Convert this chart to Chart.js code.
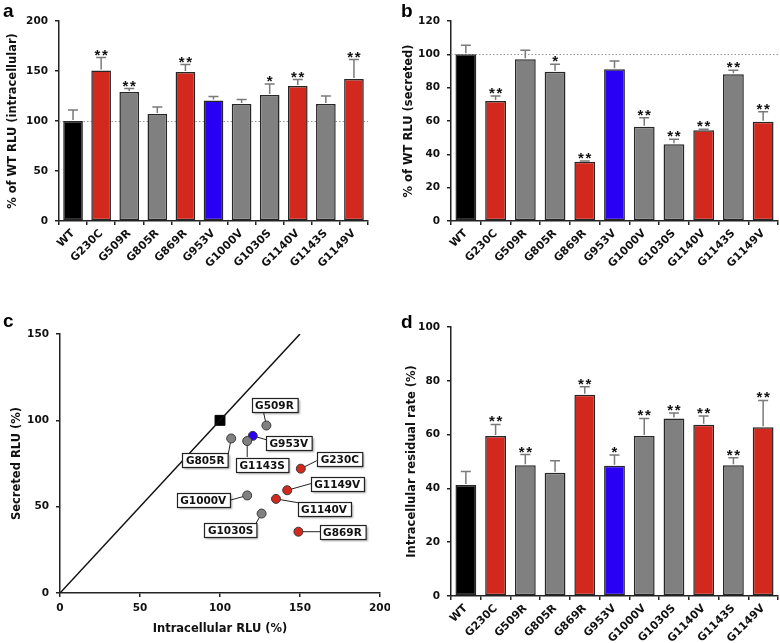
<!DOCTYPE html>
<html><head><meta charset="utf-8">
<script src="https://cdn.jsdelivr.net/npm/chart.js@4/dist/chart.umd.min.js"></script>
<style>
html,body{margin:0;padding:0;background:#fff}
body{width:780px;height:643px;position:relative;overflow:hidden;font-family:"Liberation Sans",Arial,sans-serif}
canvas{position:absolute;display:block}
.letter{position:absolute;font-weight:bold;font-size:19px;line-height:19px;color:#000}
</style></head><body>
<canvas id="ca" width="390" height="300" style="left:0;top:0"></canvas>
<canvas id="cb" width="390" height="300" style="left:390px;top:0"></canvas>
<canvas id="cc" width="390" height="333" style="left:0;top:310px"></canvas>
<canvas id="cd" width="390" height="333" style="left:390px;top:310px"></canvas>
<div class="letter" style="left:3px;top:1px">a</div>
<div class="letter" style="left:401px;top:1px">b</div>
<div class="letter" style="left:3px;top:311px">c</div>
<div class="letter" style="left:401px;top:312px">d</div>
<script>
// ---- data ----
const categories = ['WT','G230C','G509R','G805R','G869R','G953V','G1000V','G1030S','G1140V','G1143S','G1149V'];
const intracellular    = [100, 150.5, 129, 107, 149, 120.5, 117, 126, 135, 117, 142];
const intracellularSEM = [11, 13, 3.5, 7, 7.5, 4, 4.5, 11, 6.5, 8, 19.5];
const intracellularSig = ['', '**', '**', '', '**', '', '', '*', '**', '', '**'];
const secreted    = [100, 72, 97, 89.5, 35.5, 91, 56.5, 46, 54.5, 88, 59.5];
const secretedSEM = [5.5, 3, 5.5, 4.5, 0.5, 5, 5.5, 3, 0.5, 2.5, 6];
const secretedSig = ['', '**', '', '*', '**', '', '**', '**', '**', '**', '**'];
const residual    = [41.3, 59.5, 48.6, 45.8, 74.8, 48.4, 59.5, 66, 63.7, 48.6, 62.7];
const residualSEM = [5, 4.3, 4, 4.5, 3, 4, 6.5, 2, 3.2, 2.8, 10];
const residualSig = ['', '**', '**', '', '**', '*', '**', '**', '**', '**', '**'];
const identityLine = [0, 150];   // y = x reference line, x range

// ---- styles ----
const RED = '#d2281e', GRAY = '#808080', BLUE = '#2a00f5', BLACK = '#000000';
const barColors = [BLACK, RED, GRAY, GRAY, RED, BLUE, GRAY, GRAY, RED, GRAY, RED];
const FONT = '"DejaVu Sans", Verdana, sans-serif';
const INK = '#111';

const barExtras = {
  id: 'barExtras',
  beforeDatasetsDraw(chart, args, opts) {
    if (opts.ref == null) return;
    const {ctx, chartArea: a, scales: {y}} = chart;
    const py = Math.round(y.getPixelForValue(opts.ref)) + 0.5;
    ctx.save();
    ctx.strokeStyle = '#9a9a9a'; ctx.lineWidth = 1; ctx.setLineDash([1.5, 2]);
    ctx.beginPath(); ctx.moveTo(a.left, py); ctx.lineTo(a.right, py); ctx.stroke();
    ctx.restore();
  },
  afterDatasetsDraw(chart, args, opts) {
    const {ctx, scales: {y}} = chart;
    const meta = chart.getDatasetMeta(0);
    const vals = chart.data.datasets[0].data;
    ctx.save();
    meta.data.forEach((bar, i) => {
      const v = vals[i], e = opts.err[i];
      const x = bar.x, y0 = y.getPixelForValue(v), y1 = y.getPixelForValue(v + e);
      ctx.strokeStyle = '#7a7a7a'; ctx.lineWidth = 1.5;
      ctx.beginPath();
      ctx.moveTo(x, y0 - 1); ctx.lineTo(x, y1);
      ctx.moveTo(x - 5, y1); ctx.lineTo(x + 5, y1);
      ctx.stroke();
      const s = opts.sig[i];
      if (s) {
        ctx.fillStyle = INK;
        ctx.font = 'bold 15px "Liberation Sans", Arial, sans-serif';
        ctx.textAlign = 'center'; ctx.textBaseline = 'alphabetic';
        const step = 7.5;
        for (let k = 0; k < s.length; k++) {
          ctx.fillText('*', x + (k - (s.length - 1) / 2) * step, y1 + 2);
        }
      }
    });
    ctx.restore();
  }
};

function barChart(id, values, errs, sig, o) {
  return new Chart(document.getElementById(id), {
    type: 'bar',
    data: {labels: categories, datasets: [{
      data: values, backgroundColor: barColors, borderColor: '#262626', borderWidth: 1.5,
      borderSkipped: false, categoryPercentage: 1, barPercentage: 0.7
    }]},
    options: {
      responsive: false, animation: false, devicePixelRatio: 1,
      layout: {padding: {left: 0, right: o.padR, top: o.top, bottom: 0}},
      plugins: {legend: {display: false}, tooltip: {enabled: false},
        barExtras: {err: errs, sig: sig, ref: o.ref}},
      scales: {
        x: {
          grid: {drawOnChartArea: false, offset: true, drawTicks: true, tickLength: 4, color: '#222', lineWidth: 1.5},
          border: {display: true, color: '#222', width: 1.5},
          ticks: {minRotation: 45, maxRotation: 45, autoSkip: false, padding: 2, color: INK,
            font: {family: FONT, size: 11, weight: 'bold'}},
          afterFit(s) { s.height = o.xh; s.paddingLeft = 0; s.paddingRight = 0; }
        },
        y: {
          min: 0, max: o.max,
          ticks: {stepSize: o.step, padding: 7, color: INK, font: {family: FONT, size: 10.5, weight: 'bold'}},
          grid: {drawOnChartArea: false, tickLength: 4, color: '#222', lineWidth: 1.5},
          border: {color: '#222', width: 1.5},
          title: {display: true, text: o.title, color: INK,
            font: {family: FONT, size: 11.5, weight: 'bold'}, padding: {top: o.tp, bottom: 0}},
          afterFit(s) { s.width = o.yw; s.paddingTop = 0; s.paddingBottom = 0; }
        }
      }
    },
    plugins: [barExtras]
  });
}

barChart('ca', intracellular, intracellularSEM, intracellularSig,
  {max: 200, step: 50, title: '% of WT RLU (intracellular)', ref: 100, top: 21, padR: 22, xh: 79, yw: 59, tp: 6});
barChart('cb', secreted, secretedSEM, secretedSig,
  {max: 120, step: 20, title: '% of WT RLU (secreted)', ref: 100, top: 21, padR: 2, xh: 79, yw: 61, tp: 12});
barChart('cd', residual, residualSEM, residualSig,
  {max: 100, step: 20, title: 'Intracellular residual rate (%)', ref: null, top: 17, padR: 2, xh: 47, yw: 61, tp: 15});

// ---- scatter (panel c) ----
const labelLayout = {
  G230C:  {box: [39, -10],  end: [16, -8]},
  G509R:  {box: [8, -21],   end: [-3, -14]},
  G805R:  {box: [-26, 22],  end: [-3, 16]},
  G869R:  {box: [44, 0],    end: [22, 0]},
  G953V:  {box: [36, 7],    end: [14, 4]},
  G1000V: {box: [-44, 5],   end: [-18, 5]},
  G1030S: {box: [-31, 16],  end: [-8, 14]},
  G1140V: {box: [48, 10],   end: [23, 4]},
  G1143S: {box: [15, 24],   end: [0, 16]},
  G1149V: {box: [50, -6],   end: [25, -7]}
};
const pointLabels = {
  id: 'pointLabels',
  beforeDatasetsDraw(chart, args, opts) {
    const {ctx} = chart;
    const meta = chart.getDatasetMeta(1);
    ctx.save(); ctx.strokeStyle = '#222'; ctx.lineWidth = 1;
    meta.data.forEach((pt, i) => {
      const L = opts.layout[opts.names[i]]; if (!L) return;
      ctx.beginPath(); ctx.moveTo(pt.x, pt.y); ctx.lineTo(pt.x + L.end[0], pt.y + L.end[1]); ctx.stroke();
    });
    ctx.restore();
  },
  afterDatasetsDraw(chart, args, opts) {
    const {ctx} = chart;
    const meta = chart.getDatasetMeta(1);
    ctx.save();
    ctx.font = 'bold 10.5px ' + FONT;
    meta.data.forEach((pt, i) => {
      const name = opts.names[i];
      const L = opts.layout[name]; if (!L) return;
      const cx = pt.x + L.box[0], cy = pt.y + L.box[1];
      const w = ctx.measureText(name).width + 7, h = 14;
      const x0 = Math.round(cx - w / 2) + 0.5, y0 = Math.round(cy - h / 2) + 0.5;
      ctx.save();
      ctx.shadowColor = 'rgba(0,0,0,0.35)'; ctx.shadowOffsetX = 1.5; ctx.shadowOffsetY = 1.5; ctx.shadowBlur = 2;
      ctx.fillStyle = '#fff'; ctx.fillRect(x0, y0, w, h);
      ctx.restore();
      ctx.strokeStyle = '#222'; ctx.lineWidth = 1.2; ctx.strokeRect(x0, y0, w, h);
      ctx.fillStyle = INK; ctx.textAlign = 'center'; ctx.textBaseline = 'middle';
      ctx.fillText(name, cx, y0 + h / 2 + 0.5);
    });
    ctx.restore();
  }
};

new Chart(document.getElementById('cc'), {
  type: 'scatter',
  data: {datasets: [
    {data: identityLine.map(v => ({x: v, y: v})), showLine: true, borderColor: '#111', borderWidth: 1.5, pointRadius: 0},
    {data: categories.slice(1).map((c, i) => ({x: intracellular[i + 1], y: secreted[i + 1]})),
      backgroundColor: barColors.slice(1), borderColor: '#3a3a3a', borderWidth: 1, pointRadius: 4.5},
    {data: [{x: intracellular[0], y: secreted[0]}], pointStyle: 'rect', pointRadius: 7,
      backgroundColor: '#000', borderColor: '#000', borderWidth: 1}
  ]},
  options: {
    responsive: false, animation: false, devicePixelRatio: 1,
    layout: {padding: {left: 0, right: 10, top: 24, bottom: 0}},
    plugins: {legend: {display: false}, tooltip: {enabled: false},
      pointLabels: {names: categories.slice(1), layout: labelLayout}},
    scales: {
      x: {
        type: 'linear', min: 0, max: 200,
        ticks: {stepSize: 50, padding: 5, color: INK, font: {family: FONT, size: 10.5, weight: 'bold'}},
        grid: {drawOnChartArea: false, tickLength: 4, color: '#222', lineWidth: 1.5},
        border: {color: '#222', width: 1.5},
        title: {display: true, text: 'Intracellular RLU (%)', color: INK,
          font: {family: FONT, size: 11.5, weight: 'bold'}, padding: {top: 0, bottom: 7}},
        afterFit(s) { s.height = 50; s.paddingLeft = 0; s.paddingRight = 0; }
      },
      y: {
        min: 0, max: 150,
        ticks: {stepSize: 50, padding: 7, color: INK, font: {family: FONT, size: 10.5, weight: 'bold'}},
        grid: {drawOnChartArea: false, tickLength: 4, color: '#222', lineWidth: 1.5},
        border: {color: '#222', width: 1.5},
        title: {display: true, text: 'Secreted RLU (%)', color: INK,
          font: {family: FONT, size: 11.5, weight: 'bold'}, padding: {top: 10, bottom: 0}},
        afterFit(s) { s.width = 60; s.paddingTop = 0; s.paddingBottom = 0; }
      }
    }
  },
  plugins: [pointLabels]
});
</script>
</body></html>
